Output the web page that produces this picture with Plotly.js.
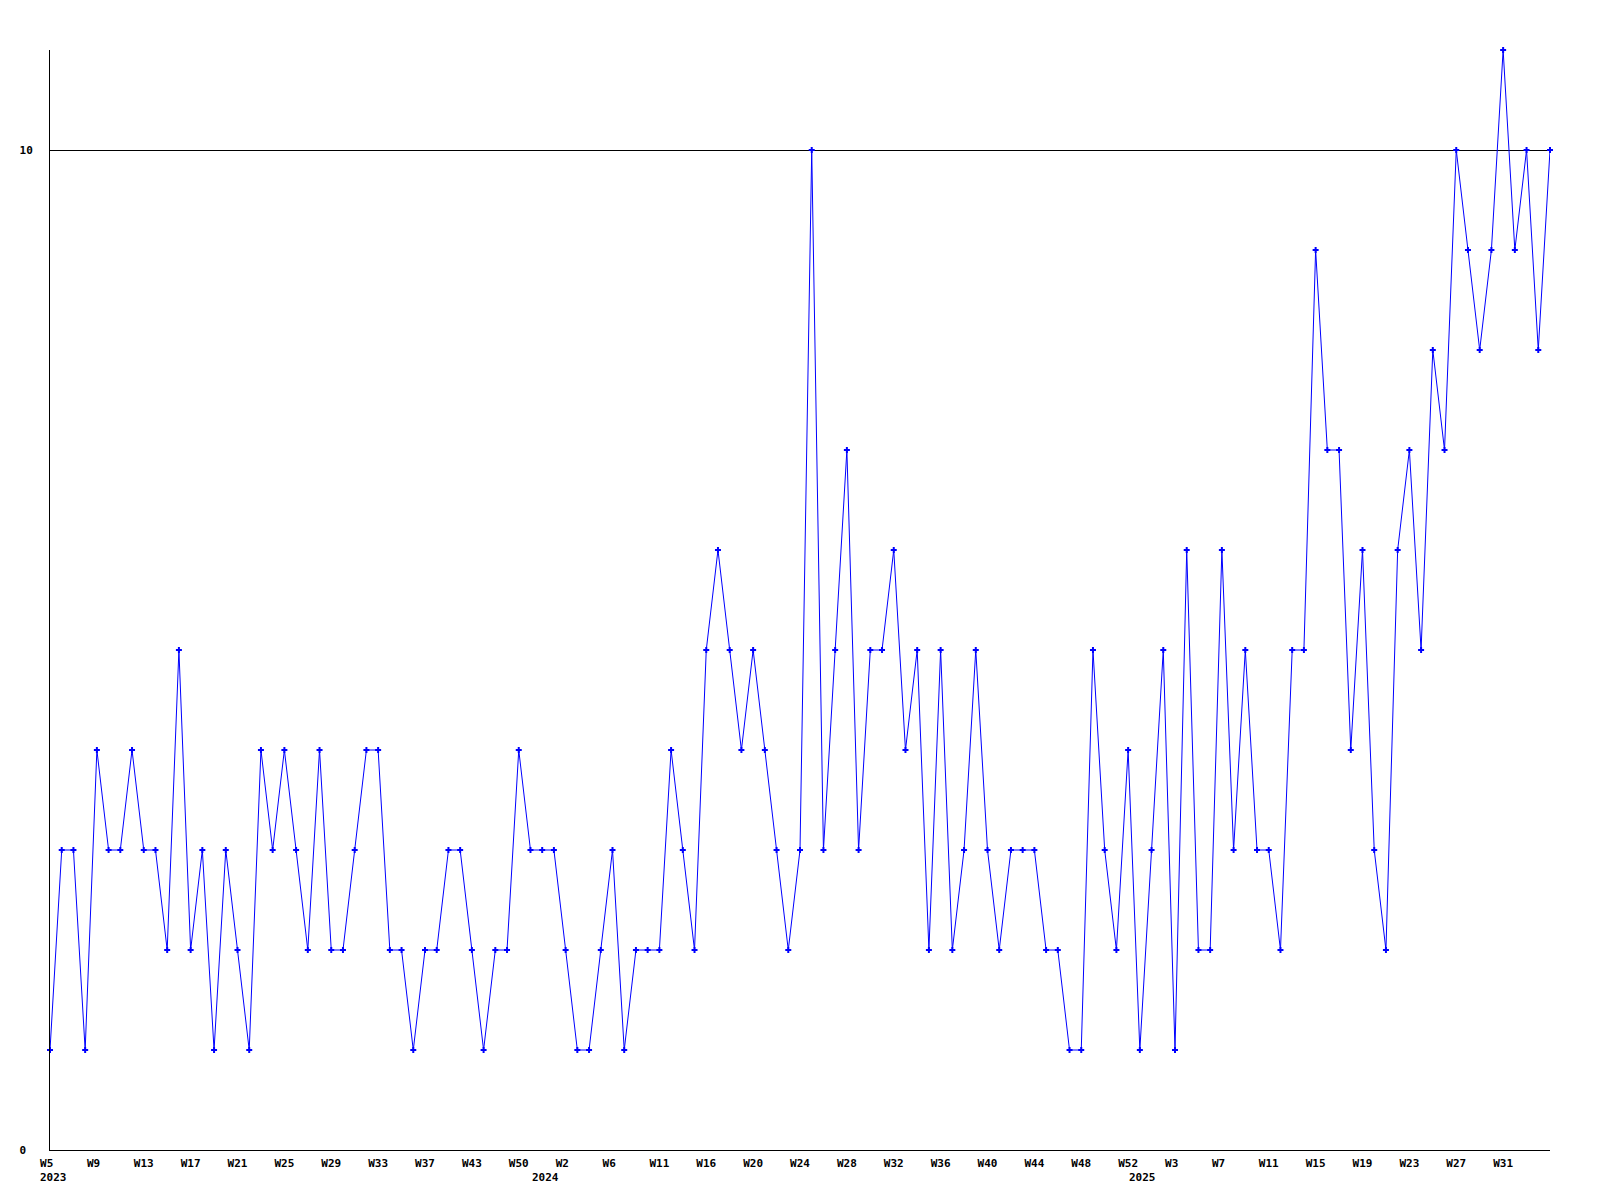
<!DOCTYPE html>
<html>
<head>
<meta charset="utf-8">
<script src="https://cdn.plot.ly/plotly-3.0.1.min.js"></script>
<style>html,body{margin:0;padding:0;background:#fff;}#chart{width:1600px;height:1200px;}</style>
</head>
<body>
<div id="chart"></div>
<script>
// Weekly counts, 2023 W5 .. 2025 (one value per week shown)
const weeklyValues = [
  1,3,3,1,4,3,3,4,3,3,2,5,2,3,1,3,2,1,4,3,
  4,3,2,4,2,2,3,4,4,2,2,1,2,2,3,3,2,1,2,2,
  4,3,3,3,2,1,1,2,3,1,2,2,2,4,3,2,5,6,5,4,
  5,4,3,2,3,10,3,5,7,3,5,5,6,4,5,2,5,2,3,5,
  3,2,3,3,3,2,2,1,1,5,3,2,4,1,3,5,1,6,2,2,
  6,3,5,3,3,2,5,5,9,7,7,4,6,3,2,6,7,5,8,7,
  10,9,8,9,11,9,10,8,10
];
// Week tick labels (every 4th point)
const weekTickLabels = [
  "W5","W9","W13","W17","W21","W25","W29","W33","W37","W43","W50",
  "W2","W6","W11","W16","W20","W24","W28","W32","W36","W40","W44","W48","W52",
  "W3","W7","W11","W15","W19","W23","W27","W31"
];
const tickEvery = 4;
// Year labels and the index of the first week of each year
const yearLabels = ["2023","2024","2025"];
const yearStartIndex = [0, 42, 93];
const yTickValues = [0, 10];
const yTickLabels = ["0", "10"];

const xIdx = weeklyValues.map((_, i) => i);
const tickVals = weekTickLabels.map((_, i) => i * tickEvery);
// labels are left-aligned like 3-character labels: pad short ones
const padTo = (t, n) => t + "\u00a0".repeat(Math.max(0, n - t.length));

const font = {family: "DejaVu Sans Mono, monospace", size: 11, color: "#000"};

const trace = {
  x: xIdx,
  y: weeklyValues,
  type: "scatter",
  mode: "lines+markers",
  line: {color: "#0000ff", width: 1},
  marker: {symbol: "cross", size: 5, color: "#0000ff"},
  hoverinfo: "x+y",
  cliponaxis: false
};

const annotations = yearLabels.map((t, i) => ({
  text: "<b>" + t + "</b>",
  x: yearStartIndex[i], xref: "x",
  y: 0, yref: "paper",
  yshift: -27, xshift: 3,
  showarrow: false,
  xanchor: "center", yanchor: "middle",
  font: font
}));

const layout = {
  width: 1600, height: 1200,
  margin: {l: 50, r: 50, t: 50, b: 50, pad: 0},
  paper_bgcolor: "#fff", plot_bgcolor: "#fff",
  showlegend: false,
  font: font,
  xaxis: {
    range: [0, weeklyValues.length - 1],
    tickmode: "array",
    tickvals: tickVals,
    ticktext: weekTickLabels.map(t => "<b>" + padTo(t, 3) + "</b>"),
    showgrid: false, zeroline: false,
    showline: true, linecolor: "#000", linewidth: 1,
    ticks: "", ticklabelstandoff: 3,
    tickfont: font, tickangle: 0
  },
  yaxis: {
    range: [0, 11],
    tickmode: "array",
    tickvals: yTickValues,
    ticktext: yTickLabels.map(t => "<b>" + padTo(t, 2) + "</b>"),
    showgrid: true, gridcolor: "#000", gridwidth: 1,
    zeroline: false,
    showline: true, linecolor: "#000", linewidth: 1,
    ticks: "", ticklabelstandoff: 14,
    tickfont: font
  },
  annotations: annotations
};

Plotly.newPlot("chart", [trace], layout, {displayModeBar: false, staticPlot: true});
</script>
</body>
</html>
